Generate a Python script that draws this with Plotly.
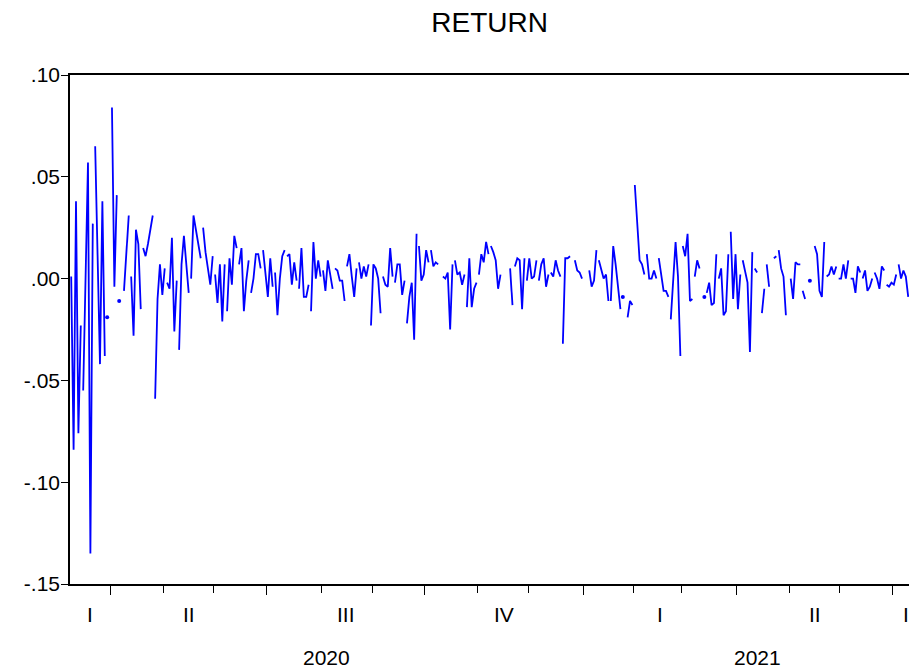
import numpy as np
import pandas as pd
import plotly.graph_objects as go

# Daily returns (5-day calendar, None = missing), by quarter
ret_2020_q1 = [0.001, -0.084, 0.038, -0.076, -0.023,
               -0.055, 0.000, 0.057, -0.135, 0.027,
               0.065, 0.004, -0.042, 0.038, -0.038,
               -0.019, None]
ret_2020_q2 = [0.084, -0.004, 0.041,
               -0.011, None, -0.006, 0.012, 0.031,
               0.001, -0.028, 0.024, 0.017, -0.015,
               0.015, 0.011, 0.017, 0.024, 0.031,
               -0.059, -0.010, 0.007, -0.008, 0.005,
               -0.002, -0.005, 0.020, -0.026, -0.001,
               -0.035, 0.007, 0.021, 0.006, -0.007,
               0.000, 0.031, 0.024, 0.017, 0.010,
               0.025, 0.013, 0.005, -0.003, 0.011,
               0.002, -0.012, 0.007, -0.021, 0.007,
               -0.016, 0.010, -0.003, 0.021, 0.015,
               0.007, 0.015, -0.016, -0.001, 0.009,
               -0.007, 0.000, 0.012, 0.012, 0.005,
               0.014, 0.001]
ret_2020_q3 = [-0.009, 0.010, -0.004,
               0.003, -0.018, 0.000, 0.011, 0.014,
               0.011, 0.012, -0.003, 0.008, -0.001,
               -0.005, 0.015, -0.009, -0.009, -0.003,
               -0.016, 0.018, 0.000, 0.009, 0.001,
               0.004, -0.006, 0.009, 0.002, -0.005,
               0.005, 0.004, -0.001, -0.001, -0.011,
               0.006, 0.012, 0.001, -0.009, 0.005,
               0.008, 0.000, 0.006, 0.001, 0.007,
               -0.023, 0.007, 0.005, 0.000, -0.017,
               0.001, -0.003, -0.004, 0.015, 0.001,
               -0.002, 0.007, 0.007, -0.008, -0.001,
               -0.022, -0.009, -0.002, -0.030, 0.022,
               0.016, -0.001, 0.002]
ret_2020_q4 = [0.014, 0.008,
               0.014, 0.006, 0.008, 0.007, None,
               0.001, 0.000, 0.003, -0.025, 0.007,
               0.009, 0.002, 0.003, -0.003, 0.002,
               -0.014, 0.010, -0.014, -0.005, -0.002,
               0.002, 0.012, 0.008, 0.018, 0.012,
               0.016, 0.013, 0.009, -0.005, 0.002,
               None, None, None, 0.005, -0.013,
               0.006, 0.010, 0.009, -0.015, 0.010,
               -0.001, 0.010, 0.000, 0.001, 0.009,
               -0.001, 0.007, 0.010, -0.004, 0.002,
               0.003, 0.001, 0.009, 0.004, 0.001,
               -0.032, 0.010, 0.010, 0.011, None,
               0.009, 0.004, 0.003, 0.000]
ret_2021_q1 = [None,
               None, 0.004, -0.004, -0.001, 0.014,
               0.009, 0.004, 0.000, 0.002, -0.011,
               -0.011, 0.016, 0.007, -0.005, -0.015,
               -0.009, None, -0.019, -0.011, -0.013,
               0.046, 0.025, 0.009, 0.007, 0.002,
               0.012, 0.000, 0.000, 0.004, 0.000,
               0.010, 0.003, -0.006, -0.006, -0.009,
               -0.020, 0.002, 0.018, 0.001, -0.038,
               0.016, 0.011, 0.022, -0.011, -0.010,
               0.001, 0.009, 0.005, None, -0.009,
               -0.007, -0.002, -0.013, -0.012, 0.012,
               0.000, 0.005, -0.018, -0.016, 0.012,
               0.023, -0.010, 0.012]
ret_2021_q2 = [-0.015, 0.002,
               0.009, 0.003, -0.002, -0.036, 0.013,
               0.005, 0.003, None, -0.017, -0.005,
               0.007, -0.004, None, 0.010, 0.011,
               0.014, 0.005, 0.001, -0.018, None,
               0.000, -0.010, 0.008, 0.007, 0.007,
               -0.006, -0.010, None, -0.001, None,
               0.016, 0.012, -0.006, -0.009, 0.018,
               0.001, 0.002, 0.006, 0.002, 0.006,
               0.000, 0.000, 0.007, 0.000, 0.009,
               0.000, 0.000, -0.007, 0.006, 0.003,
               0.000, 0.004, -0.006, -0.004, 0.000,
               0.003, 0.000, -0.005, 0.006, 0.004,
               -0.003, -0.004, -0.002]
ret_2021_q3 = [-0.003, 0.002,
               0.007, 0.000, 0.004, 0.001, -0.009]

quarter_names = ["I", "II", "III", "IV"]
y_tick_values = [0.10, 0.05, 0.00, -0.05, -0.10, -0.15]
y_tick_labels = [".10", ".05", ".00", "-.05", "-.10", "-.15"]

returns = (ret_2020_q1 + ret_2020_q2 + ret_2020_q3 + ret_2020_q4
           + ret_2021_q1 + ret_2021_q2 + ret_2021_q3)
n = len(returns)
dates = pd.bdate_range("2020-03-09", periods=n)

# the original graph continues past the right edge of the picture
x_lo, x_hi = -0.5, n - 0.5 + 9


def linked(i, j):
    if i < 0 or j >= n:
        return False
    if returns[i] is None or returns[j] is None:
        return False
    return (dates[j] - dates[i]).days == 1


# line broken at weekends and at missing values
xs, ys = [], []
for i in range(n):
    if i > 0 and (dates[i] - dates[i - 1]).days > 1:
        xs.append(None)
        ys.append(None)
    xs.append(i)
    ys.append(returns[i])

iso = [i for i in range(n)
       if returns[i] is not None and not linked(i - 1, i) and not linked(i, i + 1)]

BLUE = "#0000FF"
fig = go.Figure()
fig.add_trace(go.Scatter(x=xs, y=ys, mode="lines", connectgaps=False,
                         line=dict(color=BLUE, width=1.8), hoverinfo="skip",
                         showlegend=False))
fig.add_trace(go.Scatter(x=iso, y=[returns[i] for i in iso], mode="markers",
                         marker=dict(color=BLUE, size=4), showlegend=False,
                         hoverinfo="skip"))

# month / quarter boundaries
major, minor = [], []
for i in range(1, n):
    if dates[i].month != dates[i - 1].month:
        if dates[i].month in (1, 4, 7, 10):
            major.append(i - 0.5)
        else:
            minor.append(i - 0.5)

TXT = "Liberation Sans, Arial, sans-serif"
annotations = []


def span_center(ids, last):
    lo = max(ids[0] - 0.5, x_lo)
    hi = x_hi if last else ids[-1] + 0.5
    return (lo + hi) / 2


qkey = [(d.year, (d.month - 1) // 3) for d in dates]
groups = {}
for i, k in enumerate(qkey):
    groups.setdefault(k, []).append(i)
qitems = list(groups.items())
for j, ((yr, q), ids) in enumerate(qitems):
    annotations.append(dict(x=span_center(ids, j == len(qitems) - 1), y=0,
                            xref="x", yref="paper",
                            text=quarter_names[q], showarrow=False, yanchor="middle",
                            yshift=-30, font=dict(family=TXT, size=21, color="black")))
ygroups = {}
for i, d in enumerate(dates):
    ygroups.setdefault(d.year, []).append(i)
yitems = list(ygroups.items())
for j, (yr, ids) in enumerate(yitems):
    annotations.append(dict(x=span_center(ids, j == len(yitems) - 1), y=0,
                            xref="x", yref="paper",
                            text=str(yr), showarrow=False, yanchor="middle",
                            yshift=-73, font=dict(family=TXT, size=21, color="black")))

plot_w = 839 * (x_hi - x_lo) / n
fig_w = int(round(70 + plot_w))

fig.update_layout(
    width=fig_w, height=670,
    margin=dict(l=70, r=0, t=75, b=86, autoexpand=False),
    paper_bgcolor="white", plot_bgcolor="white",
    title=dict(text="RETURN", x=(489.5 - 70) / plot_w, xref="paper",
               xanchor="center", y=1 - 22 / 670, yanchor="middle",
               font=dict(family=TXT, size=28, color="black")),
    annotations=annotations,
    xaxis=dict(range=[x_lo, x_hi], showgrid=False, zeroline=False,
               showline=True, linecolor="black", linewidth=1.5, mirror=True,
               tickmode="array", tickvals=major, ticktext=[""] * len(major),
               ticks="outside", ticklen=9, tickwidth=1, tickcolor="black",
               minor=dict(tickmode="array", tickvals=minor, ticks="outside",
                          ticklen=7, tickwidth=1, tickcolor="black", showgrid=False)),
    yaxis=dict(range=[-0.15, 0.10], showgrid=False, zeroline=False,
               showline=True, linecolor="black", linewidth=1.5,
               tickmode="array", tickvals=y_tick_values, ticktext=y_tick_labels,
               ticks="outside", ticklen=7, tickwidth=1, tickcolor="black",
               ticklabelstandoff=-3,
               tickfont=dict(family=TXT, size=21, color="black")),
)

fig.write_html("out.html", config={"displayModeBar": False},
               post_script="document.body.style.margin='0px';document.body.style.overflow='hidden';")
